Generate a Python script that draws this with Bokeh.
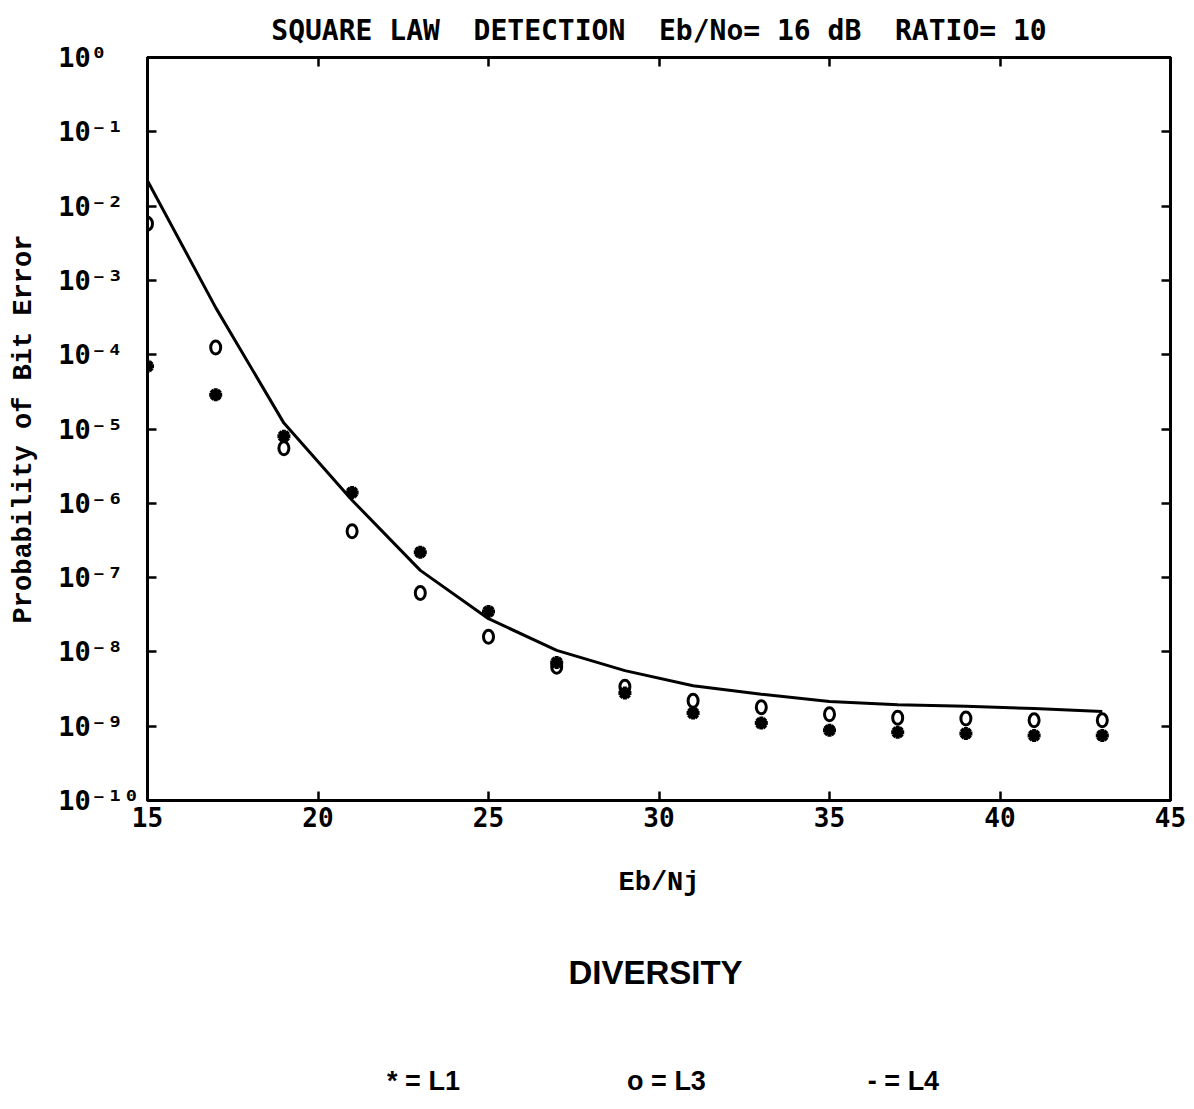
from bokeh.plotting import figure
from bokeh.models import FixedTicker, LinearAxis, LogAxis, CustomJSTickFormatter, Range1d
from bokeh.layouts import column
from bokeh.embed import file_html
from bokeh.resources import INLINE
from bokeh.core.properties import value

# ---- data ----
eb_nj = [15, 17, 19, 21, 23, 25, 27, 29, 31, 33, 35, 37, 39, 41, 43]
pe_L1 = [7.0e-5, 2.9e-5, 8.0e-6, 1.4e-6, 2.2e-7, 3.5e-8, 7.2e-9, 2.8e-9,
         1.5e-9, 1.1e-9, 8.8e-10, 8.3e-10, 8.0e-10, 7.5e-10, 7.5e-10]
pe_L3 = [5.8e-3, 1.25e-4, 5.5e-6, 4.2e-7, 6.2e-8, 1.6e-8, 6.3e-9, 3.4e-9,
         2.2e-9, 1.8e-9, 1.45e-9, 1.3e-9, 1.27e-9, 1.2e-9, 1.2e-9]
pe_L4 = [2.2e-2, 4.3e-4, 1.2e-5, 1.1e-6, 1.25e-7, 2.8e-8, 1.05e-8, 5.6e-9,
         3.5e-9, 2.7e-9, 2.15e-9, 1.95e-9, 1.85e-9, 1.73e-9, 1.58e-9]
x_ticks = [15, 20, 25, 30, 35, 40, 45]
y_tick_exponents = [-10, -9, -8, -7, -6, -5, -4, -3, -2, -1, 0]
title_text = "SQUARE LAW  DETECTION  Eb/No= 16 dB  RATIO= 10"
x_label = "Eb/Nj"
y_label = "Probability of Bit Error"
legend_title = "DIVERSITY"
legend_labels = ["* = L1", "o = L3", "- = L4"]

y_ticks = [10.0 ** e for e in y_tick_exponents]

MONO = "DejaVu Sans Mono"
SERIF_MONO = "Liberation Mono"

p = figure(width=1194, height=910, y_axis_type="log",
           x_range=Range1d(15, 45), y_range=Range1d(1e-10, 1),
           output_backend="svg", toolbar_location=None,
           min_border_left=147, min_border_right=24,
           min_border_top=57, min_border_bottom=110,
           background_fill_color="white", border_fill_color="white")
p.grid.visible = False
p.outline_line_color = "black"
p.outline_line_width = 3

# keep the double spaces of the original title visible
p.title.text = title_text.replace("  ", "\u00a0\u00a0")
p.title.align = "center"
p.title.text_font = MONO
p.title.text_font_style = "bold"
p.title.text_font_size = "28px"
p.title.text_color = "black"
p.title.standoff = 22

log_fmt = CustomJSTickFormatter(code="""
const sup = {"-": "\u207b", "0": "\u2070", "1": "\u00b9", "2": "\u00b2", "3": "\u00b3",
             "4": "\u2074", "5": "\u2075", "6": "\u2076", "7": "\u2077", "8": "\u2078", "9": "\u2079"};
const e = Math.round(Math.log10(tick));
let s = "10";
for (const c of String(e)) { s += sup[c]; }
return s.padEnd(5, "\u00a0");
""")
blank_fmt = CustomJSTickFormatter(code="return '';")

def style_axis(ax):
    ax.axis_line_width = 3
    ax.axis_line_color = "black"
    ax.major_tick_in = 9
    ax.major_tick_out = 0
    ax.major_tick_line_width = 2.5
    ax.major_tick_line_color = "black"
    ax.minor_tick_line_color = None

# bottom x axis
xa = p.xaxis[0]
xa.ticker = FixedTicker(ticks=x_ticks)
style_axis(xa)
xa.major_label_text_font = MONO
xa.major_label_text_font_style = "bold"
xa.major_label_text_font_size = "26px"
xa.major_label_text_color = "black"
xa.major_label_standoff = 6
xa.axis_label = x_label
xa.axis_label_text_font = SERIF_MONO
xa.axis_label_text_font_style = "bold"
xa.axis_label_text_font_size = "27px"
xa.axis_label_text_color = "black"
xa.axis_label_standoff = 38

# left y axis
ya = p.yaxis[0]
ya.ticker = FixedTicker(ticks=y_ticks)
ya.formatter = log_fmt
style_axis(ya)
ya.major_label_text_font = MONO
ya.major_label_text_font_style = "bold"
ya.major_label_text_font_size = "27px"
ya.major_label_text_color = "black"
ya.major_label_standoff = 8
ya.axis_label = y_label
ya.axis_label_text_font = SERIF_MONO
ya.axis_label_text_font_style = "bold"
ya.axis_label_text_font_size = "27px"
ya.axis_label_text_color = "black"
ya.axis_label_standoff = 16

# top and right frame axes with inward ticks
top = LinearAxis(ticker=FixedTicker(ticks=x_ticks), formatter=blank_fmt)
style_axis(top)
top.major_label_standoff = 0
p.add_layout(top, "above")
right = LogAxis(ticker=FixedTicker(ticks=y_ticks), formatter=blank_fmt)
style_axis(right)
right.major_label_standoff = 0
p.add_layout(right, "right")

# L4 curve
p.line(eb_nj, pe_L4, line_color="black", line_width=3)
# L1 stars
p.scatter(eb_nj, pe_L1, marker="asterisk", size=13, line_color="black", line_width=4)
# L3 open ovals
p.ellipse(eb_nj, pe_L3, width=10, height=13, width_units="screen", height_units="screen",
          fill_color=None, line_color="black", line_width=3)

# legend panel below (its frame is aligned with the plot frame: x in page pixels)
p2 = figure(width=1194, height=199, x_range=Range1d(147, 1170), y_range=Range1d(0, 199),
            output_backend="svg", toolbar_location=None,
            x_axis_location=None, y_axis_location=None, min_border=0,
            background_fill_color="white", border_fill_color="white")
p2.grid.visible = False
p2.outline_line_color = None
p2.text(x=[655], y=[137], text=[legend_title], text_font=value("Liberation Sans"),
        text_font_style="bold", text_font_size="33px", text_align="center",
        text_baseline="middle", text_color="black")
p2.text(x=[423, 666, 903], y=[29, 29, 29], text=legend_labels, text_font=value("Liberation Sans"),
        text_font_style="bold", text_font_size="27px", text_align="center",
        text_baseline="middle", text_color="black")

layout = column(p, p2, spacing=0)
open("out.html", "w").write(file_html(layout, INLINE))
